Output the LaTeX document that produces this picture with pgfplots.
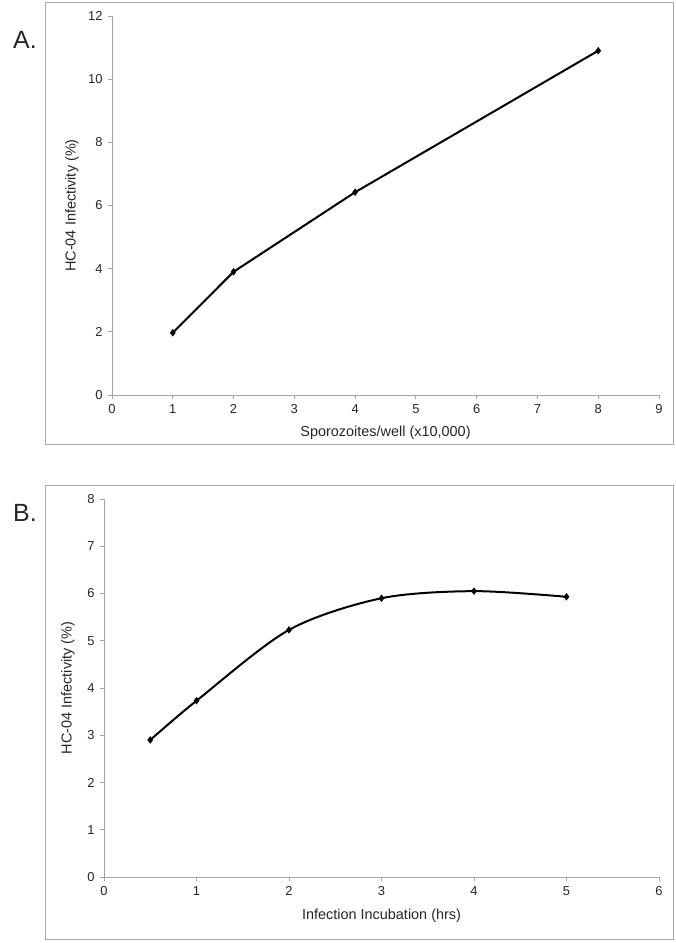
\documentclass[border=0pt]{standalone}
\usepackage{fontspec}
\setmainfont{Liberation Sans}
\usepackage{pgfplots}
\pgfplotsset{compat=1.18}
\definecolor{axgray}{RGB}{165,165,165}
\definecolor{boxgray}{RGB}{170,170,170}
\pgfplotsset{
  myaxis/.style={
    scale only axis,
    axis x line*=bottom, axis y line*=left,
    axis line style={axgray, line width=0.8bp},
    every tick/.style={axgray, line width=0.8bp},
    tick align=outside, major tick length=4bp,
    tick label style={font=\fontsize{13}{15}\selectfont, text=black!85},
    yticklabel style={xshift=-2bp},
    xticklabel style={yshift=-2bp},
    label style={font=\fontsize{14.5}{16}\selectfont, text=black!85},
    /pgf/number format/assume math mode=true,
    clip=false,
  },
  myline/.style={black, line width=2bp, mark=diamond*, mark size=3.4bp, mark options={fill=black, line width=0.4bp}},
}
\begin{document}
\begin{tikzpicture}[x=1bp,y=1bp]
\path (0,0) rectangle (676,943);
\draw[boxgray, line width=1bp] (45,498) rectangle (673,940);
\draw[boxgray, line width=1bp] (45,3) rectangle (673,457);
\node[font=\fontsize{25}{28}\selectfont, text=black!85] at (25,903) {A.};
\node[font=\fontsize{25}{28}\selectfont, text=black!85] at (25,430) {B.};
\begin{axis}[myaxis,
  at={(112bp,548bp)}, anchor=south west,
  width=547bp, height=379bp,
  xmin=0, xmax=9, ymin=0, ymax=12,
  xtick={0,1,...,9}, ytick={0,2,...,12},
  xlabel={Sporozoites/well (x10,000)},
  ylabel={HC-04 Infectivity (\%)},
  xlabel style={at={(axis description cs:0.5,-0.1003)}, anchor=center},
  ylabel style={at={(axis description cs:-0.0731,0.5)}, anchor=center},
]
\addplot[myline] coordinates {(1,1.97) (2,3.9) (4,6.42) (8,10.9)};
\end{axis}
\begin{axis}[myaxis,
  at={(104bp,66bp)}, anchor=south west,
  width=555bp, height=378bp,
  xmin=0, xmax=6, ymin=0, ymax=8,
  xtick={0,1,...,6}, ytick={0,1,...,8},
  xlabel={Infection Incubation (hrs)},
  ylabel={HC-04 Infectivity (\%)},
  xlabel style={at={(axis description cs:0.5,-0.1032)}, anchor=center},
  ylabel style={at={(axis description cs:-0.0649,0.5)}, anchor=center},
]
\addplot[myline, smooth, tension=0.5] coordinates {(0.5,2.9) (1,3.73) (2,5.23) (3,5.9) (4,6.05) (5,5.93)};
\end{axis}
\end{tikzpicture}
\end{document}
